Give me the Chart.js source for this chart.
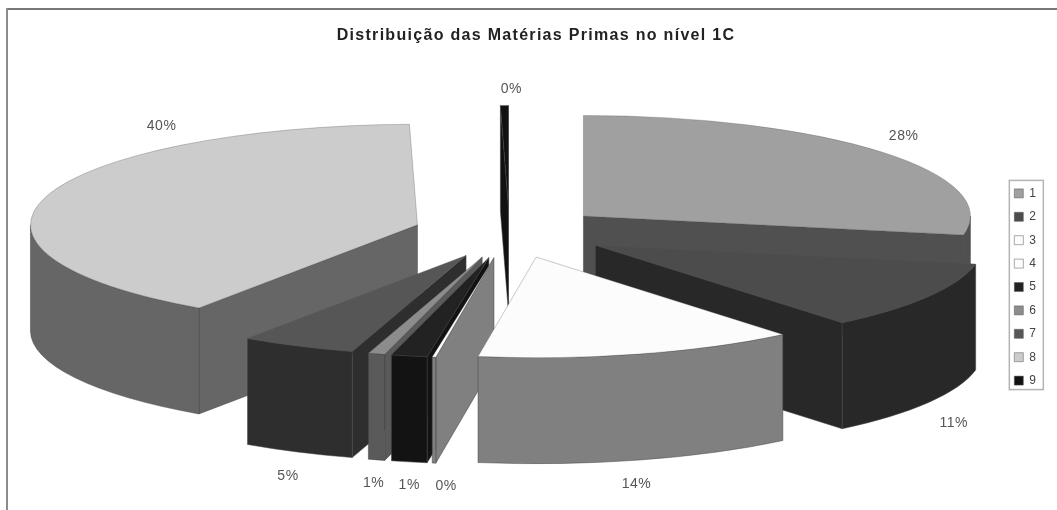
<!DOCTYPE html>
<html lang="pt">
<head>
<meta charset="utf-8">
<title>Distribuição das Matérias Primas no nível 1C</title>
<script src="https://cdn.jsdelivr.net/npm/chart.js@4"></script>
<style>
    html, body { margin: 0; padding: 0; background: #fff; overflow: hidden; }
    canvas { display: block; filter: blur(0.6px); }
</style>
</head>
<body>
<canvas id="pie" width="1057" height="510"></canvas>
<script>
const categories = ['1', '2', '3', '4', '5', '6', '7', '8', '9'];
const shares = [28, 11, 13.4, 0.15, 1.5, 0.7, 4.8, 40.12, 0.33];
const percentLabels = ['28%', '11%', '14%', '0%', '1%', '1%', '5%', '40%', '0%'];

const topColors = ['#a0a0a0', '#4c4c4c', '#fcfcfc', '#fcfcfc', '#222222', '#8c8c8c', '#565656', '#cccccc', '#111111'];
const wallColors = ['#505050', '#282828', '#808080', '#808080', '#131313', '#5a5a5a', '#2e2e2e', '#666666', '#111111'];

// painter's order, back slices first
const drawOrder = [8, 0, 7, 1, 6, 5, 4, 3, 2];

// tilt of the pie and how it sits on the page
const view = { squash: 0.26, depth: 106, shiftX: -5, shiftY: -55 };
const explodeBy = [96, 100, 100, 100, 100, 100, 100, 96, 100];

// percentage labels: nudge from the slice's outer edge
const labelNudge = [[22, -16], [25, 21], [-3, 24], [12, 23], [0, 23], [-3, 23], [-10, 24], [115, -70], [7, -16]];

function slicePlace(el, i) {
    const mid = (el.startAngle + el.endAngle) / 2;
    return {
        mid,
        x: el.x + view.shiftX + explodeBy[i] * Math.cos(mid),
        y: el.y + view.shiftY + explodeBy[i] * view.squash * Math.sin(mid)
    };
}

function drawWalls(ctx, el, place, color) {
    const R = el.outerRadius, ry = R * view.squash, d = view.depth;
    const edge = t => [place.x + R * Math.cos(t), place.y + ry * Math.sin(t)];
    ctx.fillStyle = color;
    ctx.strokeStyle = '#444';
    ctx.lineWidth = 0.5;

    const cuts = [];
    if (Math.cos(el.startAngle) < 0) cuts.push(el.startAngle);
    if (Math.cos(el.endAngle) > 0) cuts.push(el.endAngle);
    cuts.forEach(t => {
        const [ex, ey] = edge(t);
        ctx.beginPath();
        ctx.moveTo(place.x, place.y);
        ctx.lineTo(ex, ey);
        ctx.lineTo(ex, ey + d);
        ctx.lineTo(place.x, place.y + d);
        ctx.closePath();
        ctx.fill();
        ctx.stroke();
    });

    // outer wall, only the front half of the ellipse shows
    const lo = Math.max(el.startAngle, 0), hi = Math.min(el.endAngle, Math.PI);
    if (hi > lo) {
        ctx.beginPath();
        ctx.ellipse(place.x, place.y, R, ry, 0, lo, hi);
        ctx.ellipse(place.x, place.y + d, R, ry, 0, hi, lo, true);
        ctx.closePath();
        ctx.fill();
        ctx.stroke();
    }
}

const pie3d = {
    id: 'pie3d',
    beforeDraw(chart) {
        // frame: only top and left lines show in the picture
        const ctx = chart.ctx;
        ctx.save();
        ctx.fillStyle = '#fff';
        ctx.fillRect(0, 0, chart.width, chart.height);
        ctx.fillStyle = '#777';
        ctx.fillRect(6, 8, chart.width, 2);
        ctx.fillStyle = '#8c8c8c';
        ctx.fillRect(6, 8, 2, chart.height);
        ctx.restore();
        // the original text is set wide
        ctx.letterSpacing = '1.3px';
    },
    beforeDatasetDraw(chart, args) {
        const ctx = chart.ctx;
        const arcs = chart.getDatasetMeta(args.index).data;
        drawOrder.forEach(i => {
            const el = arcs[i];
            const place = slicePlace(el, i);
            ctx.save();
            drawWalls(ctx, el, place, wallColors[i]);
            ctx.translate(place.x, place.y);
            ctx.scale(1, view.squash);
            ctx.translate(-el.x, -el.y);
            el.draw(ctx);
            ctx.restore();
        });
        return false;
    },
    afterDatasetsDraw(chart) {
        const ctx = chart.ctx;
        const arcs = chart.getDatasetMeta(0).data;
        ctx.save();
        ctx.font = '14px "Liberation Sans", Arial, sans-serif';
        ctx.letterSpacing = '0.5px';
        ctx.fillStyle = '#555';
        ctx.textAlign = 'center';
        ctx.textBaseline = 'middle';
        arcs.forEach((el, i) => {
            const place = slicePlace(el, i);
            let x = place.x + el.outerRadius * Math.cos(place.mid);
            let y = place.y + el.outerRadius * view.squash * Math.sin(place.mid);
            if (Math.sin(place.mid) > 0) y += view.depth;
            ctx.fillText(percentLabels[i], x + labelNudge[i][0], y + labelNudge[i][1]);
        });
        ctx.restore();
    },
    afterDraw(chart) {
        // box round the legend
        const boxes = chart.legend.legendHitBoxes;
        const first = boxes[0], last = boxes[boxes.length - 1];
        const ctx = chart.ctx;
        ctx.save();
        ctx.strokeStyle = '#b4b4b4';
        ctx.lineWidth = 1.5;
        ctx.strokeRect(first.left - 5, first.top - 7, 34, last.top + last.height - first.top + 10);
        ctx.restore();
    }
};

new Chart(document.getElementById('pie'), {
    type: 'pie',
    data: {
        labels: categories,
        datasets: [{
            data: shares,
            backgroundColor: topColors,
            borderColor: '#555',
            borderWidth: 0.5,
            radius: 387,
            clip: false
        }]
    },
    options: {
        responsive: false,
        animation: false,
        layout: { padding: { left: 26, right: 11 } },
        plugins: {
            title: {
                display: true,
                text: 'Distribuição das Matérias Primas no nível 1C',
                color: '#222',
                font: { family: '"Liberation Sans", Arial, sans-serif', size: 16, weight: 'bold' },
                padding: { top: 26, bottom: 18.8 }
            },
            legend: {
                position: 'right',
                fullSize: false,
                labels: {
                    boxWidth: 9,
                    boxHeight: 9,
                    padding: 11.4,
                    color: '#444',
                    font: { family: '"Liberation Sans", Arial, sans-serif', size: 12 }
                }
            },
            tooltip: { enabled: false }
        }
    },
    plugins: [pie3d]
});
</script>
</body>
</html>
